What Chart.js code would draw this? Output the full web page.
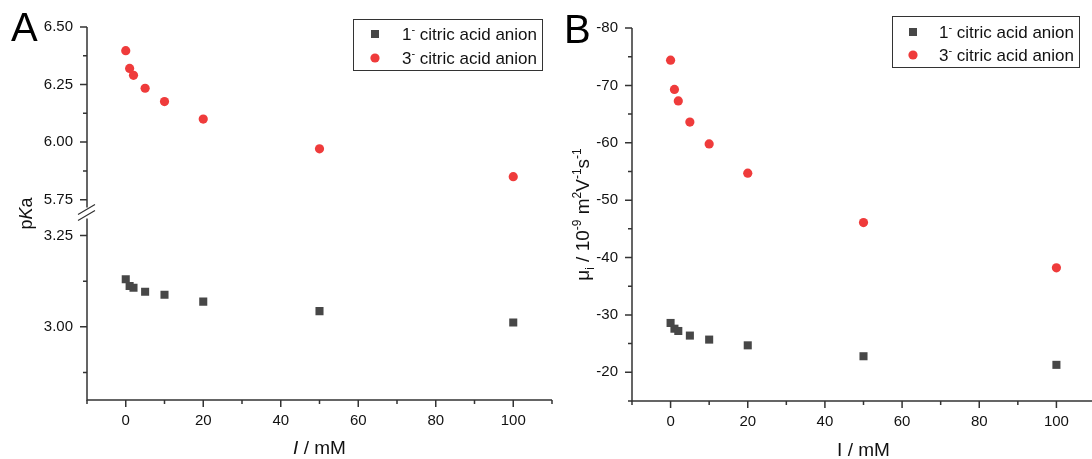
<!DOCTYPE html>
<html><head><meta charset="utf-8">
<script src="https://cdn.jsdelivr.net/npm/chart.js@4.4.1/dist/chart.umd.min.js"></script>
<style>
html,body{margin:0;padding:0;background:#fff;overflow:hidden;width:1092px;height:459px;}
#wa{position:absolute;left:0;top:0;width:560px;height:459px;}
#wb{position:absolute;left:546px;top:0;width:560px;height:459px;}
</style></head>
<body>
<div id="wa"><canvas id="ca" width="560" height="459"></canvas></div>
<div id="wb"><canvas id="cb" width="560" height="459"></canvas></div>
<script>
// ---------- data ----------
const ionicStrength = [0, 1, 2, 5, 10, 20, 50, 100];
const pKaMono = [3.130, 3.112, 3.107, 3.096, 3.088, 3.069, 3.043, 3.012];
const pKaTri  = [6.397, 6.320, 6.290, 6.234, 6.176, 6.100, 5.971, 5.850];
const mobMono = [-28.6, -27.6, -27.2, -26.4, -25.7, -24.7, -22.8, -21.3];
const mobTri  = [-74.4, -69.3, -67.3, -63.6, -59.8, -54.7, -46.1, -38.2];
const seriesLabels = ['1⁻ citric acid anion', '3⁻ citric acid anion'];

const xTicks = [0, 20, 40, 60, 80, 100];
const xMinor = [-10, 10, 30, 50, 70, 90, 110];
const pKaUpperTicks = [5.75, 6.00, 6.25, 6.50];
const pKaUpperMinor = [5.875, 6.125, 6.375];
const pKaLowerTicks = [3.00, 3.25];
const pKaLowerMinor = [2.875, 3.125];
const mobTicks = [-80, -70, -60, -50, -40, -30, -20];
const mobMinor = [-75, -65, -55, -45, -35, -25, -15];

// ---------- style ----------
const FONT = '"Liberation Sans", Arial, Helvetica, sans-serif';
const AXIS = '#333333';
const TXT = '#111111';
const RED = '#ef3b3b';
const GRAY = '#474747';

function fixedTicks(arr) { return s => { s.ticks = arr.map(v => ({ value: v })); }; }

function fontFor(p, size, small) {
  const s = (p.sup || p.sub) ? small : size;
  return (p.italic ? 'italic ' : '') + s + 'px ' + FONT;
}
function drawRich(ctx, parts, cx, baseY, size, small, rotate, align) {
  ctx.save();
  ctx.translate(cx, baseY);
  if (rotate) ctx.rotate(-Math.PI / 2);
  let w = 0;
  for (const p of parts) { ctx.font = fontFor(p, size, small); w += ctx.measureText(p.t).width; }
  let x = align === 'left' ? 0 : -w / 2;
  ctx.textBaseline = 'alphabetic';
  ctx.textAlign = 'left';
  ctx.fillStyle = TXT;
  for (const p of parts) {
    ctx.font = fontFor(p, size, small);
    const dy = p.sup ? -size * 0.42 : (p.sub ? size * 0.25 : 0);
    ctx.fillText(p.t, x, dy);
    x += ctx.measureText(p.t).width;
  }
  ctx.restore();
}
function labelParts(label) {
  const i = label.indexOf('⁻');
  if (i < 0) return [{ t: label }];
  return [{ t: label.slice(0, i) }, { t: '-', sup: true }, { t: label.slice(i + 1) }];
}

const decoPlugin = {
  id: 'deco',
  afterDraw(chart, args, o) {
    const ctx = chart.ctx, ca = chart.chartArea;
    ctx.save();
    ctx.strokeStyle = AXIS;
    ctx.lineWidth = 1.5;
    ctx.lineCap = 'butt';
    // axis lines
    ctx.beginPath();
    ctx.moveTo(ca.left, ca.top);
    ctx.lineTo(ca.left, ca.bottom);
    ctx.lineTo(ca.right, ca.bottom);
    ctx.stroke();
    // y ticks
    for (const ax of o.yAxes) {
      const s = chart.scales[ax.id];
      ctx.beginPath();
      for (const v of ax.major) { const p = s.getPixelForValue(v); ctx.moveTo(ca.left, p); ctx.lineTo(ca.left - 7, p); }
      for (const v of ax.minor) { const p = s.getPixelForValue(v); ctx.moveTo(ca.left, p); ctx.lineTo(ca.left - 4, p); }
      ctx.stroke();
    }
    // x ticks
    const xs = chart.scales.x;
    ctx.beginPath();
    for (const v of o.xMajor) { const p = xs.getPixelForValue(v); ctx.moveTo(p, ca.bottom); ctx.lineTo(p, ca.bottom + 7); }
    for (const v of o.xMinor) { const p = xs.getPixelForValue(v); ctx.moveTo(p, ca.bottom); ctx.lineTo(p, ca.bottom + 4); }
    ctx.stroke();
    // axis break
    if (o.breakScale) {
      const b = chart.scales[o.breakScale].bottom;
      ctx.fillStyle = '#fff';
      ctx.fillRect(ca.left - 3, b - 6, 6, 11);
      ctx.lineWidth = 1.2;
      ctx.beginPath();
      ctx.moveTo(ca.left - 9, b + 1); ctx.lineTo(ca.left + 8, b - 9);
      ctx.moveTo(ca.left - 9, b + 7); ctx.lineTo(ca.left + 8, b - 3);
      ctx.stroke();
    }
    // legend
    const L = o.legend;
    ctx.lineWidth = 1;
    ctx.strokeStyle = AXIS;
    ctx.strokeRect(L.x + 0.5, L.y + 0.5, L.w, L.h);
    chart.data.datasets.forEach((ds, i) => {
      const cy = L.rows[i];
      ctx.fillStyle = ds.backgroundColor;
      if (ds.pointStyle === 'rect') {
        ctx.fillRect(L.mx - 4, cy - 4, 8, 8);
      } else {
        ctx.beginPath(); ctx.arc(L.mx, cy, 4.6, 0, Math.PI * 2); ctx.fill();
      }
      drawRich(ctx, labelParts(ds.label), L.tx, cy + 6, 17, 11, false, 'left');
    });
    // titles
    drawRich(ctx, o.xTitle, (ca.left + ca.right) / 2, o.xTitleY, 19, 13, false);
    drawRich(ctx, o.yTitle, o.yTitleX, (ca.top + ca.bottom) / 2, o.yTitleSize, 12, true);
    // panel letter
    ctx.fillStyle = '#000';
    ctx.font = '40px ' + FONT;
    ctx.textAlign = 'left';
    ctx.textBaseline = 'alphabetic';
    ctx.fillText(o.letter.t, o.letter.x, o.letter.y);
    ctx.restore();
  }
};

const tickFont = { family: FONT, size: 15 };
function xScale(h) {
  return {
    type: 'linear', min: -10, max: 110,
    afterBuildTicks: fixedTicks(xTicks),
    afterFit: s => { s.height = h; },
    grid: { display: false, drawTicks: false },
    border: { display: false },
    ticks: { padding: 12, font: tickFont, color: TXT, autoSkip: false, maxRotation: 0, callback: v => String(v) }
  };
}
function yScale(min, max, ticks, w, extra) {
  return Object.assign({
    type: 'linear', position: 'left', min: min, max: max,
    afterBuildTicks: fixedTicks(ticks),
    afterFit: s => { s.width = w; },
    grid: { display: false, drawTicks: false },
    border: { display: false },
    ticks: { padding: 14, font: tickFont, color: TXT, autoSkip: false }
  }, extra || {});
}
function ds(label, data, color, style, radius, axis) {
  return {
    label: label,
    data: ionicStrength.map((x, i) => ({ x: x, y: data[i] })),
    backgroundColor: color, borderColor: color, borderWidth: 0,
    pointStyle: style, pointRadius: radius, pointHoverRadius: radius,
    yAxisID: axis, showLine: false
  };
}
const common = {
  responsive: false, animation: false, devicePixelRatio: 1, events: [],
  plugins: { legend: { display: false }, tooltip: { enabled: false } }
};

// ---------- Panel A ----------
new Chart(document.getElementById('ca'), {
  type: 'scatter',
  data: {
    datasets: [
      ds(seriesLabels[0], pKaMono, GRAY, 'rect', 5.7, 'yBot'),
      ds(seriesLabels[1], pKaTri, RED, 'circle', 4.6, 'yTop')
    ]
  },
  options: Object.assign({}, common, {
    layout: { padding: { top: 27, right: 8, left: 0, bottom: 0 } },
    scales: {
      x: xScale(59),
      yBot: yScale(2.80, 3.31, pKaLowerTicks, 87, { stack: 'pka', stackWeight: 1, ticks: { padding: 14, font: tickFont, color: TXT, autoSkip: false, callback: v => v.toFixed(2) } }),
      yTop: yScale(5.69, 6.50, pKaUpperTicks, 87, { stack: 'pka', stackWeight: 1, ticks: { padding: 14, font: tickFont, color: TXT, autoSkip: false, callback: v => v.toFixed(2) } })
    },
    plugins: Object.assign({}, common.plugins, {
      deco: {
        yAxes: [
          { id: 'yTop', major: pKaUpperTicks, minor: pKaUpperMinor },
          { id: 'yBot', major: pKaLowerTicks, minor: pKaLowerMinor }
        ],
        xMajor: xTicks, xMinor: xMinor,
        breakScale: 'yTop',
        legend: { x: 353, y: 19, w: 189, h: 51, mx: 375, tx: 402, rows: [34, 58] },
        xTitle: [{ t: 'I', italic: true }, { t: ' / mM' }], xTitleY: 454,
        yTitle: [{ t: 'p' }, { t: 'K', italic: true }, { t: 'a' }], yTitleX: 32, yTitleSize: 18,
        letter: { t: 'A', x: 11, y: 41 }
      }
    })
  }),
  plugins: [decoPlugin]
});

// ---------- Panel B ----------
new Chart(document.getElementById('cb'), {
  type: 'scatter',
  data: {
    datasets: [
      ds(seriesLabels[0], mobMono, GRAY, 'rect', 5.7, 'y'),
      ds(seriesLabels[1], mobTri, RED, 'circle', 4.6, 'y')
    ]
  },
  options: Object.assign({}, common, {
    layout: { padding: { top: 28, right: 11, left: 0, bottom: 0 } },
    scales: {
      x: xScale(58),
      y: yScale(-80, -15, mobTicks, 86, { reverse: true, ticks: { padding: 14, font: tickFont, color: TXT, autoSkip: false, callback: v => String(v) } })
    },
    plugins: Object.assign({}, common.plugins, {
      deco: {
        yAxes: [{ id: 'y', major: mobTicks, minor: mobMinor }],
        xMajor: xTicks, xMinor: xMinor,
        breakScale: null,
        legend: { x: 346, y: 16, w: 187, h: 51, mx: 367, tx: 393, rows: [32, 55] },
        xTitle: [{ t: 'I' }, { t: ' / mM' }], xTitleY: 456,
        yTitle: [{ t: 'μ' }, { t: 'i', sub: true }, { t: ' / 10' }, { t: '-9', sup: true }, { t: ' m' }, { t: '2', sup: true }, { t: 'V' }, { t: '-1', sup: true }, { t: 's' }, { t: '-1', sup: true }],
        yTitleX: 43, yTitleSize: 19,
        letter: { t: 'B', x: 18, y: 43 }
      }
    })
  }),
  plugins: [decoPlugin]
});
</script>
</body></html>
